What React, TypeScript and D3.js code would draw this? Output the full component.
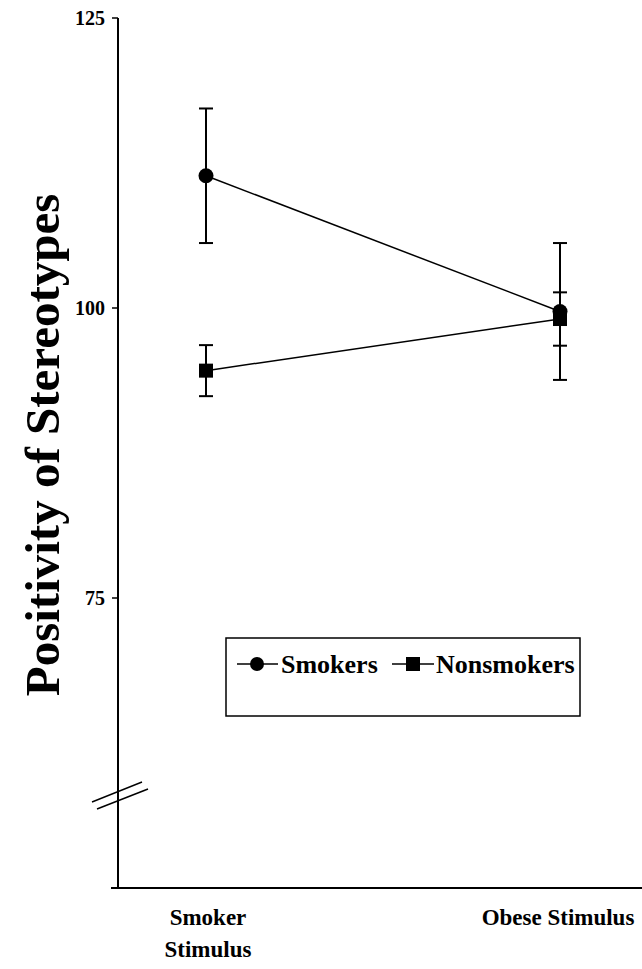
import React from 'react';
import * as d3 from 'd3';

const categories = ['Smoker Stimulus', 'Obese Stimulus'];
const categoryLines = [['Smoker', 'Stimulus'], ['Obese Stimulus']];
const smokersMean = [111.4, 99.7];
const smokersErr = [5.8, 5.9];
const nonsmokersMean = [94.6, 99.05];
const nonsmokersErr = [2.2, 2.3];
const yTicks = [75, 100, 125];

const App = () => {
  const Width = 642;
  const Height = 969;
  const font = '"Liberation Serif", "Times New Roman", serif';

  const xScale = d3.scalePoint<string>().domain(categories).range([206, 560]);
  const yScale = d3.scaleLinear().domain([50, 125]).range([888, 18]);
  const axisX = 118;

  const line = d3
    .line<number>()
    .x((d, i) => xScale(categories[i]) as number)
    .y((d) => yScale(d));

  const errorBars = (means: number[], errs: number[], key: string) =>
    means.map((m, i) => {
      const x = xScale(categories[i]) as number;
      const top = yScale(m + errs[i]);
      const bot = yScale(m - errs[i]);
      return (
        <g key={key + i} stroke="#000" strokeWidth={2}>
          <line x1={x} x2={x} y1={top} y2={bot} />
          <line x1={x - 7} x2={x + 7} y1={top} y2={top} />
          <line x1={x - 7} x2={x + 7} y1={bot} y2={bot} />
        </g>
      );
    });

  return (
    <svg width={Width} height={Height} style={{ position: 'absolute', left: 0, top: 0 }}>
      <rect width={Width} height={Height} fill="#fff" />

      {/* axes */}
      <line x1={axisX} x2={axisX} y1={yScale(125)} y2={yScale(50)} stroke="#000" strokeWidth={2} />
      <line x1={111} x2={642} y1={yScale(50)} y2={yScale(50)} stroke="#000" strokeWidth={2} />
      {yTicks.map((t) => (
        <g key={t}>
          <line x1={axisX - 6} x2={axisX} y1={yScale(t)} y2={yScale(t)} stroke="#000" strokeWidth={1.5} />
          <text
            x={105}
            y={yScale(t)}
            textAnchor="end"
            dominantBaseline="central"
            style={{ fontFamily: font, fontWeight: 'bold', fontSize: '20px' }}
          >
            {t}
          </text>
        </g>
      ))}

      {/* axis break */}
      <line x1={92} x2={142} y1={802} y2={782} stroke="#000" strokeWidth={1.5} />
      <line x1={97} x2={148} y1={809} y2={789} stroke="#000" strokeWidth={1.5} />

      <text
        transform={`translate(59, 445) rotate(-90)`}
        textAnchor="middle"
        style={{ fontFamily: font, fontWeight: 'bold', fontSize: '49px' }}
      >
        Positivity of Stereotypes
      </text>

      {categoryLines.map((lines, i) => (
        <text
          key={i}
          x={xScale(categories[i]) as number}
          y={925}
          textAnchor="middle"
          style={{ fontFamily: font, fontWeight: 'bold', fontSize: '23px' }}
        >
          {lines.map((l, j) => (
            <tspan key={j} x={(xScale(categories[i]) as number) + (i === 0 ? 2 : -2)} dy={j === 0 ? 0 : 32}>
              {l}
            </tspan>
          ))}
        </text>
      ))}

      {/* data */}
      {errorBars(smokersMean, smokersErr, 's')}
      {errorBars(nonsmokersMean, nonsmokersErr, 'n')}
      <path d={line(smokersMean) || ''} fill="none" stroke="#000" strokeWidth={1.5} />
      <path d={line(nonsmokersMean) || ''} fill="none" stroke="#000" strokeWidth={1.5} />
      {smokersMean.map((m, i) => (
        <circle key={'c' + i} cx={xScale(categories[i]) as number} cy={yScale(m)} r={7.5} fill="#000" />
      ))}
      {nonsmokersMean.map((m, i) => (
        <rect
          key={'r' + i}
          x={(xScale(categories[i]) as number) - 7}
          y={yScale(m) - 7}
          width={14}
          height={14}
          fill="#000"
        />
      ))}

      {/* legend */}
      <rect x={226} y={638} width={354} height={78} fill="none" stroke="#000" strokeWidth={1.5} />
      <g transform="translate(0, 664)">
        <line x1={237} x2={278} y1={0} y2={0} stroke="#000" strokeWidth={1.5} />
        <circle cx={257} cy={0} r={7} fill="#000" />
        <text x={281} y={0} dominantBaseline="central" style={{ fontFamily: font, fontWeight: 'bold', fontSize: '26px' }}>
          Smokers
        </text>
        <line x1={392} x2={434} y1={0} y2={0} stroke="#000" strokeWidth={1.5} />
        <rect x={406} y={-7} width={14} height={14} fill="#000" />
        <text x={436} y={0} dominantBaseline="central" style={{ fontFamily: font, fontWeight: 'bold', fontSize: '26px' }}>
          Nonsmokers
        </text>
      </g>
    </svg>
  );
};

export default App;
